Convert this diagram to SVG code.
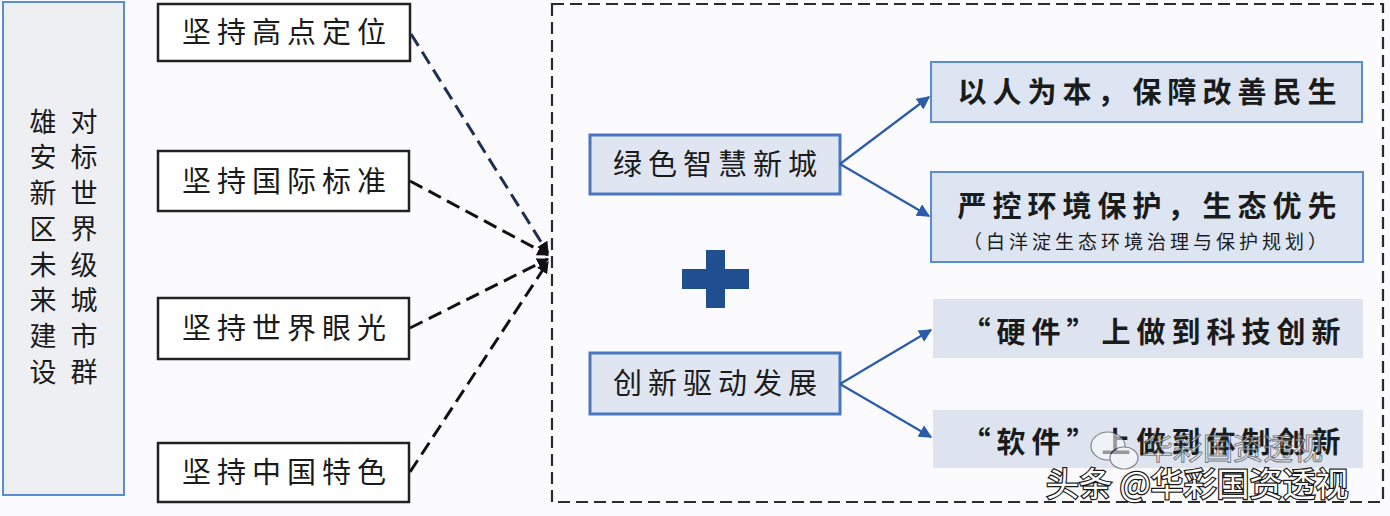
<svg xmlns="http://www.w3.org/2000/svg" width="1390" height="516" viewBox="0 0 1390 516">
<defs>
<style>
.t{font-family:"Noto Sans CJK SC","Noto Sans",sans-serif;fill:#1b1b1b;}
.v{writing-mode:vertical-rl;}
.lb{fill:#ffffff;stroke:#222;stroke-width:2.5;}
.mb{fill:#dfe6f1;stroke:#4a76c0;stroke-width:3;}
.rb{fill:#dce5f1;stroke:#5b8bd0;stroke-width:2;}
.rf{fill:#dde4ef;}
.dash{fill:none;stroke:#111;stroke-width:3;stroke-dasharray:14 7;}
.blue{fill:none;stroke:#2a5caa;stroke-width:2.2;}
</style>
<marker id="ak" viewBox="0 0 10 10" refX="9" refY="5" markerWidth="4" markerHeight="4" orient="auto"><path d="M0,0 L10,5 L0,10 z" fill="#111"/></marker>
<marker id="ab" viewBox="0 0 10 10" refX="9" refY="5" markerWidth="6" markerHeight="6" orient="auto"><path d="M0,0 L10,5 L0,10 z" fill="#2a5caa"/></marker>
</defs>
<rect x="0" y="0" width="1390" height="516" fill="#fbfbfd"/>

<g id="container">
<rect x="552" y="4" width="831" height="498" fill="none" stroke="#2b2b2b" stroke-width="2.2" stroke-dasharray="12 6"/>
</g>

<g id="goal">
<rect x="3" y="2" width="121" height="493" fill="#eeeff3" stroke="#5b8bd0" stroke-width="2"/>
<text class="t v" x="43" y="108" font-size="27" letter-spacing="8.7">雄安新区未来建设</text>
<text class="t v" x="84" y="108" font-size="27" letter-spacing="8.7">对标世界级城市群</text>
</g>

<g id="p1"><rect class="lb" x="158" y="4" width="252" height="57"/><text class="t" x="287" y="43" font-size="29" letter-spacing="6" text-anchor="middle">坚持高点定位</text></g>
<g id="p2"><rect class="lb" x="158" y="151" width="251" height="60"/><text class="t" x="287" y="192" font-size="29" letter-spacing="6" text-anchor="middle">坚持国际标准</text></g>
<g id="p3"><rect class="lb" x="158" y="298" width="251" height="61"/><text class="t" x="287" y="339" font-size="29" letter-spacing="6" text-anchor="middle">坚持世界眼光</text></g>
<g id="p4"><rect class="lb" x="158" y="443" width="251" height="59"/><text class="t" x="287" y="483" font-size="29" letter-spacing="6" text-anchor="middle">坚持中国特色</text></g>

<g id="m1"><rect class="mb" x="590" y="135" width="250" height="59"/><text class="t" x="718" y="175" font-size="29" letter-spacing="6" text-anchor="middle">绿色智慧新城</text></g>
<g id="m2"><rect class="mb" x="590" y="353" width="250" height="61"/><text class="t" x="718" y="394" font-size="29" letter-spacing="6" text-anchor="middle">创新驱动发展</text></g>

<g id="plus" fill="#1f4f8f">
<rect x="706" y="250" width="19" height="58"/>
<rect x="682" y="269" width="67" height="20"/>
</g>

<g id="r1"><rect class="rb" x="931" y="62" width="431" height="60"/><text class="t" x="1150" y="103" font-size="29" font-weight="bold" letter-spacing="6" text-anchor="middle">以人为本，保障改善民生</text></g>
<g id="r2"><rect class="rb" x="931" y="172" width="432" height="90"/><text class="t" x="1150" y="217" font-size="29" font-weight="bold" letter-spacing="6" text-anchor="middle">严控环境保护，生态优先</text><text class="t" x="1147" y="249" font-size="19" letter-spacing="4" text-anchor="middle">（白洋淀生态环境治理与保护规划）</text></g>
<g id="r3"><rect class="rf" x="933" y="299" width="430" height="59"/><text class="t" x="1154" y="343" font-size="29" font-weight="bold" letter-spacing="6" text-anchor="middle">“硬件”上做到科技创新</text></g>
<g id="r4"><rect class="rf" x="933" y="410" width="430" height="58"/><text class="t" x="1154" y="453" font-size="29" font-weight="bold" letter-spacing="6" text-anchor="middle">“软件”上做到体制创新</text></g>

<g id="connectors">
<line class="dash" x1="411" y1="34" x2="548" y2="253" style="stroke:#1c2f55" marker-end="url(#ak)"/>
<line class="dash" x1="410" y1="181" x2="548" y2="255" marker-end="url(#ak)"/>
<line class="dash" x1="410" y1="328" x2="548" y2="259" marker-end="url(#ak)"/>
<line class="dash" x1="410" y1="472" x2="548" y2="262" marker-end="url(#ak)"/>
<line class="blue" x1="840" y1="164" x2="929" y2="97" marker-end="url(#ab)"/>
<line class="blue" x1="840" y1="164" x2="929" y2="216" marker-end="url(#ab)"/>
<line class="blue" x1="840" y1="384" x2="931" y2="330" marker-end="url(#ab)"/>
<line class="blue" x1="840" y1="384" x2="931" y2="437" marker-end="url(#ab)"/>
</g>

<g id="watermark">
<g opacity="0.55" fill="#ffffff" stroke="#333" stroke-width="1.2">
<ellipse cx="1108" cy="446" rx="17" ry="14"/>
<ellipse cx="1124" cy="458" rx="14" ry="11"/>
</g>
<text x="1143" y="459" font-family="Noto Sans CJK SC,sans-serif" font-size="30" fill="#ffffff" stroke="#333" stroke-width="1" opacity="0.6">华彩国资透视</text>
<text x="1046" y="496" font-family="Noto Sans CJK SC,sans-serif" font-size="33" fill="#ffffff" stroke="#1a1a1a" stroke-width="2.5" paint-order="stroke">头条 @华彩国资透视</text>
</g>
</svg>
